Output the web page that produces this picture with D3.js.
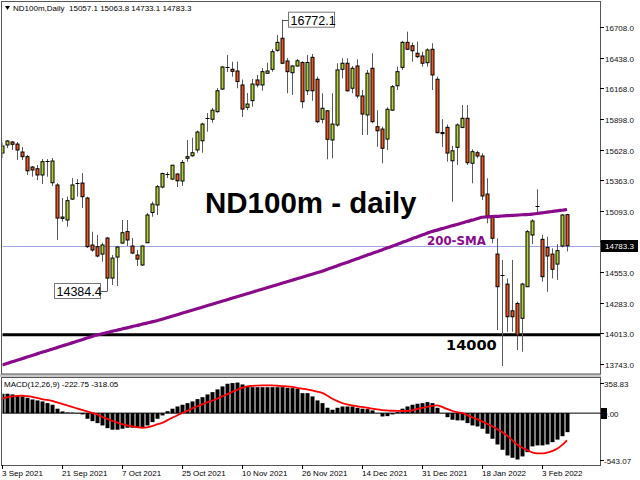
<!DOCTYPE html>
<html><head><meta charset="utf-8">
<script src="https://cdn.jsdelivr.net/npm/d3@7"></script>
<style>html,body{margin:0;padding:0;background:#fff;}svg{display:block;}</style>
</head><body>
<svg id="c" width="640" height="480"></svg>
<script>
// ---- data (daily bars, left to right) ----
const openP  = [15599,15670,15696,15678,15608,15567,15476,15461,15406,15527,15338,15318,15024,15010,15194,15338,15335,15203,14790,14775,14710,14851,14499,14684,14807,14908,14781,14702,14614,14810,15076,15142,15300,15412,15370,15414,15353,15553,15575,15626,15707,15910,15896,15963,16162,16359,16336,16321,16198,16001,16060,16242,16198,16301,16336,16503,16609,16409,16306,16365,16396,16147,16441,16248,15896,15971,15714,15846,16336,16389,16169,16365,16101,15934,16345,15831,15810,15722,15976,16191,16353,16573,16543,16477,16453,16394,16512,16248,15780,15825,15531,15649,15825,15905,15509,15602,15573,15238,15045,14710,14526,14446,14211,14276,14145,14423,14878,15133,14840,14769,14710,14622,14781,15057.1];
const highP  = [15696,15714,15705,15696,15652,15582,15485,15494,15546,15546,15555,15335,15203,15215,15379,15370,15423,15215,14907,14878,14810,14860,14702,14781,15010,15010,14851,14746,14790,15071,15171,15318,15426,15432,15494,15423,15538,15714,15734,15796,15866,15951,15995,16171,16365,16462,16403,16403,16246,16127,16250,16286,16347,16394,16514,16638,16772.1,16435,16374,16426,16406,16462,16470,16271,16125,15976,16125,16389,16433,16433,16365,16424,16154,16330,16477,15976,15831,16001,16198,16359,16587,16667,16570,16579,16491,16521,16565,16271,15898,15850,15661,15861,16022,16022,15632,15619,15597,15377,15054,14849,14658,14496,14658,14291,14458,14922,15018,15280,14878,14863,14760,14798,15062,15063.8];
const lowP   = [15555,15643,15626,15538,15538,15406,15391,15362,15326,15391,15309,14834,14995,14951,15186,15215,15115,14763,14731,14681,14643,14384.4,14438,14429,14798,14781,14710,14605,14605,14807,15039,15054,15289,15379,15362,15300,15309,15523,15567,15602,15602,15787,15866,15954,16154,16312,16271,16169,15916,15976,16007,16177,16147,16294,16315,16491,16382,16125,16110,16359,15993,16110,16059,15861,15861,15544,15553,15831,16257,16139,16125,16081,15758,15758,15861,15655,15509,15626,15969,16154,16330,16506,16403,16433,16359,16359,16154,15773,15652,15523,15171,15494,15817,15494,15333,15553,15186,14981,14805,14042,13725,14027,14027,13866,13851,14420,14798,15054,14467,14379,14496,14482,14769,14733.1];
const closeP = [15661,15705,15676,15626,15567,15443,15450,15406,15523,15527,15529,15027,15036,15180,15318,15338,15215,14775,14746,14693,14790,14499,14675,14772,14898,14834,14719,14666,14781,15054,15150,15303,15419,15412,15492,15355,15516,15567,15602,15784,15854,15910,15976,16147,16356,16359,16318,16228,15986,16030,16206,16198,16315,16321,16491,16573,16389,16315,16365,16411,16051,16396,16147,15875,15993,15720,15854,16330,16389,16147,16345,16101,15942,16301,15875,15795,15641,15984,16183,16315,16573,16512,16499,16447,16389,16506,16286,15778,15770,15599,15619,15846,15905,15514,15611,15573,15221,15045,14849,14423,14526,14159,14159,13998,14446,14907,15001,15133,14511,14693,14576,14740,15054,14783.3];
const sma200 = [13734,13748,13762,13776,13790,13804,13818,13832,13846,13860,13873,13887,13901,13915,13929,13943,13957,13971,13985,13998,14009,14019,14030,14040,14051,14061,14072,14082,14093,14103,14114,14124,14137,14150,14163,14176,14190,14203,14216,14229,14242,14256,14269,14282,14295,14308,14322,14335,14348,14361,14374,14388,14401,14414,14427,14440,14454,14467,14480,14493,14506,14520,14533,14546,14559,14575,14590,14606,14622,14637,14653,14669,14684,14700,14716,14731,14747,14763,14779,14795,14812,14828,14845,14861,14878,14894,14909,14921,14934,14946,14959,14971,14984,14996,15009,15021,15034,15037,15040,15042,15045,15048,15050,15053,15056,15058,15061,15067,15073,15079,15085,15090,15096,15102];
const macdHist = [227,227,219,207,196,180,160,149,137,117,98,52,20,8,5,-5,-15,-66,-94,-117,-144,-176,-194,-194,-183,-171,-171,-171,-164,-144,-105,-66,-27,23,52,78,98,117,137,164,187,219,246,278,313,344,352,358,336,316,304,304,304,304,304,304,304,297,293,286,234,234,196,149,117,63,40,63,78,78,78,63,52,47,32,2,-39,-35,-15,12,52,78,98,110,117,129,117,63,-3,-47,-77,-85,-85,-117,-144,-156,-183,-241,-300,-367,-429,-496,-523,-543.07,-507,-457,-390,-378,-378,-367,-340,-310,-270,-222.75];
const macdSignal = [169,184,196,201,204,198,190,178,164,155,143,125,108,90,73,55,37,20,2,-15,-42,-68,-89,-109,-129,-144,-156,-165,-171,-167,-153,-132,-115,-85,-56,-27,0,26,55,78,102,125,145,169,196,219,248,272,295,313,319,322,324,324,324,321,316,313,307,297,287,278,266,252,237,207,172,143,119,102,90,81,73,63,53,43,36,32,28,26,25,25,32,49,61,73,84,90,73,49,28,11,2,-21,-48,-71,-97,-124,-153,-185,-220,-261,-314,-367,-402,-431,-460,-472,-472,-462,-445,-418,-375,-318.05];
const priceTicks = ["16708.0","16438.0","16168.0","15898.0","15628.0","15363.0","15093.0","14823.0","14553.0","14283.0","14013.0","13743.0"];
const macdTicks = ["358.83","0.00","-543.07"];
const dateLabels = ["3 Sep 2021","21 Sep 2021","7 Oct 2021","25 Oct 2021","10 Nov 2021","26 Nov 2021","14 Dec 2021","31 Dec 2021","18 Jan 2022","3 Feb 2022"];
const dateIdx = [0,12,24,36,48,60,72,84,96,108];
const lastPrice = 14783.3;
const level = 14000;
const highLabel = {i:56, v:16772.1};
const lowLabel = {i:21, v:14384.4};

// ---- layout ----
const L = 2, R = 600;
const mainTop = 2, mainBot = 374, subTop = 377, subBot = 465;
const svg = d3.select("#c");
const x = d3.scaleLinear().domain([0, 113]).range([2, 567]);
const y = d3.scaleLinear().domain([13743, 16708]).range([364, 27]);
const ym = d3.scaleLinear().domain([-543.07, 358.83]).range([459.5, 382.5]);
const GREEN = "#b4d22e", RED = "#f0561c";
const AX = "Liberation Sans, Arial, sans-serif";

const defs = svg.append("defs");
defs.append("clipPath").attr("id","cm").append("rect").attr("x",L+0.5).attr("y",mainTop).attr("width",R-L-0.5).attr("height",mainBot-mainTop);
defs.append("clipPath").attr("id","cs").append("rect").attr("x",L+0.5).attr("y",subTop).attr("width",R-L-0.5).attr("height",subBot-subTop);

// frames
svg.append("rect").attr("x",0).attr("y",mainBot).attr("width",R+1).attr("height",subTop-mainBot).attr("fill","#c8c8c8");
svg.append("rect").attr("x",L-0.5).attr("y",mainTop-0.5).attr("width",R-L+1).attr("height",mainBot-mainTop+0.5).attr("fill","none").attr("stroke","#555");
svg.append("rect").attr("x",L-0.5).attr("y",subTop+0.5).attr("width",R-L+1).attr("height",subBot-subTop).attr("fill","none").attr("stroke","#555");

const gm = svg.append("g").attr("clip-path","url(#cm)");

// current price line
gm.append("line").attr("x1",L).attr("x2",R).attr("y1",Math.round(y(lastPrice))+0.5).attr("y2",Math.round(y(lastPrice))+0.5)
  .attr("stroke","#a4a4e4").attr("stroke-width",1.2);
// 14000 level
gm.append("line").attr("x1",L).attr("x2",R).attr("y1",y(level)).attr("y2",y(level)).attr("stroke","#000").attr("stroke-width",3);

// candles
const idx = d3.range(openP.length);
const cg = gm.append("g");
cg.selectAll("line.w").data(idx).join("line").attr("class","w")
  .attr("x1",i=>x(i)+0.5).attr("x2",i=>x(i)+0.5)
  .attr("y1",i=>y(highP[i])).attr("y2",i=>y(lowP[i]))
  .attr("stroke","#5a5a5a").attr("stroke-width",1);
cg.selectAll("rect.b").data(idx.filter(i=>openP[i]!==closeP[i])).join("rect").attr("class","b")
  .attr("x",i=>x(i)-1)
  .attr("y",i=>y(Math.max(openP[i],closeP[i])))
  .attr("width",3)
  .attr("height",i=>Math.max(1, Math.abs(y(openP[i])-y(closeP[i]))))
  .attr("fill",i=>closeP[i]>openP[i]?GREEN:RED)
  .attr("stroke","#000").attr("stroke-width",1);
cg.selectAll("line.d").data(idx.filter(i=>openP[i]===closeP[i])).join("line").attr("class","d")
  .attr("x1",i=>x(i)-1.5).attr("x2",i=>x(i)+2.5)
  .attr("y1",i=>Math.round(y(openP[i]))+0.5).attr("y2",i=>Math.round(y(openP[i]))+0.5)
  .attr("stroke","#000").attr("stroke-width",1);

// 200 SMA
gm.append("path").datum(idx)
  .attr("d", d3.line().x(i=>x(i)).y(i=>y(sma200[i])).curve(d3.curveMonotoneX))
  .attr("fill","none").attr("stroke","#8a0a8c").attr("stroke-width",3.2);

// high / low labels
function boxLabel(bx, by, w, txt, cx, cy){
  svg.append("line").attr("x1",cx+0.5).attr("x2",bx).attr("y1",Math.round(cy)+0.5).attr("y2",Math.round(cy)+0.5).attr("stroke","#555");
  svg.append("rect").attr("x",bx+0.5).attr("y",by+0.5).attr("width",w).attr("height",15).attr("fill","#fff").attr("stroke","#777");
  svg.append("text").attr("x",bx+2.5).attr("y",by+13).attr("font-family",AX).attr("font-size",12.5).attr("fill","#000").text(txt);
}
boxLabel(288, y(highLabel.v)-8, 46, "16772.1", x(highLabel.i), y(highLabel.v));
const lx = x(lowLabel.i);
svg.append("line").attr("x1",lx+0.5).attr("x2",101).attr("y1",Math.round(y(lowLabel.v))+0.5).attr("y2",Math.round(y(lowLabel.v))+0.5).attr("stroke","#555");
svg.append("rect").attr("x",54.5).attr("y",Math.round(y(lowLabel.v))-7.5).attr("width",46).attr("height",15).attr("fill","#fff").attr("stroke","#777");
svg.append("text").attr("x",56.5).attr("y",Math.round(y(lowLabel.v))+5).attr("font-family",AX).attr("font-size",12.5).attr("fill","#000").text("14384.4");

// annotations
svg.append("text").attr("x",205).attr("y",213).attr("font-family",AX).attr("font-weight","bold").attr("font-size",29.5).attr("fill","#000").text("ND100m - daily");
svg.append("text").attr("x",427).attr("y",245).attr("font-family","DejaVu Sans, sans-serif").attr("font-weight","bold").attr("font-size",11.8).attr("fill","#8a0a8c").text("200-SMA");
svg.append("text").attr("x",446).attr("y",350).attr("font-family","DejaVu Sans, sans-serif").attr("font-weight","bold").attr("font-size",14.6).attr("fill","#000").text("14000");

// header
svg.append("path").attr("d","M5,6 L10,6 L7.5,10 Z").attr("fill","#000");
svg.append("text").attr("x",13).attr("y",11).attr("font-family",AX).attr("font-size",8).attr("fill","#000")
  .attr("xml:space","preserve").text("ND100m,Daily  " + [openP[113],highP[113],lowP[113],closeP[113]].map(v=>v.toFixed(1)).join(" "));

// price axis
const pa = svg.append("g");
priceTicks.forEach(t=>{
  const yy = Math.round(y(+t))+0.5;
  pa.append("line").attr("x1",R).attr("x2",R+4).attr("y1",yy).attr("y2",yy).attr("stroke","#000");
  pa.append("text").attr("x",605).attr("y",yy+3).attr("font-family",AX).attr("font-size",8).attr("fill","#111").text(t);
});
const ly = Math.round(y(lastPrice));
pa.append("rect").attr("x",601).attr("y",ly-6).attr("width",37).attr("height",12).attr("fill","#000");
pa.append("text").attr("x",605).attr("y",ly+3).attr("font-family",AX).attr("font-size",8).attr("fill","#fff").text(lastPrice.toFixed(1));

// MACD panel
const gs = svg.append("g").attr("clip-path","url(#cs)");
gs.selectAll("rect.h").data(idx).join("rect").attr("class","h")
  .attr("x",i=>x(i)-1.5).attr("width",4)
  .attr("y",i=>Math.min(ym(0),ym(macdHist[i])))
  .attr("height",i=>Math.abs(ym(macdHist[i])-ym(0)))
  .attr("fill","#000");
gs.append("line").attr("x1",L).attr("x2",R).attr("y1",ym(0)).attr("y2",ym(0)).attr("stroke","#000");
gs.append("path").datum(idx)
  .attr("d", d3.line().x(i=>x(i)).y(i=>ym(macdSignal[i])).curve(d3.curveMonotoneX))
  .attr("fill","none").attr("stroke","#ff0000").attr("stroke-width",1.8);
svg.append("text").attr("x",4).attr("y",387).attr("font-family",AX).attr("font-size",8).attr("fill","#000")
  .text("MACD(12,26,9) " + macdHist[113].toFixed(2) + " " + macdSignal[113].toFixed(2));
macdTicks.forEach((t,k)=>{
  const yy = Math.round(ym(+t))+0.5;
  if (k===1) svg.append("rect").attr("x",601).attr("y",yy-5.5).attr("width",6).attr("height",11).attr("fill","#000");
  svg.append("line").attr("x1",R).attr("x2",R+4).attr("y1",yy).attr("y2",yy).attr("stroke","#000");
  svg.append("text").attr("x",k===1?603:604).attr("y",yy+3).attr("font-family",AX).attr("font-size",8).attr("fill","#111").text(t);
});

// time axis
dateIdx.forEach((d,k)=>{
  const xx = Math.round(x(d))+0.5;
  svg.append("line").attr("x1",xx).attr("x2",xx).attr("y1",subBot).attr("y2",subBot+4).attr("stroke","#000");
  svg.append("text").attr("x",xx-0.5).attr("y",476).attr("font-family",AX).attr("font-size",8).attr("fill","#000").text(dateLabels[k]);
});
</script>
</body></html>
